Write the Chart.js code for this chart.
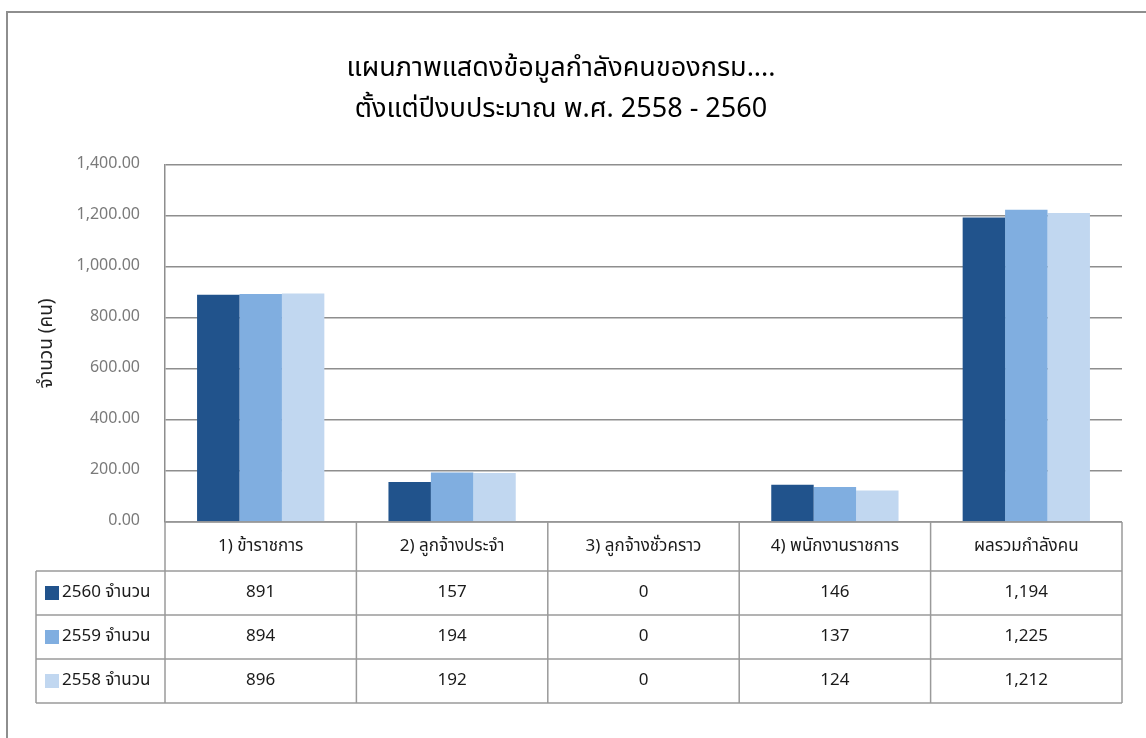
<!DOCTYPE html>
<html lang="th">
<head>
  <meta charset="UTF-8" />
  <title>แผนภาพแสดงข้อมูลกำลังคน</title>
  <script src="https://cdn.jsdelivr.net/npm/chart.js"></script>
  <style>
    body {
      margin: 0;
      background: #fff;
    }
    .wrap {
      position: relative;
      width: 1146px;
      height: 738px;
      overflow: hidden;
    }
    .frame {
      position: absolute;
      left: 6px;
      top: 11px;
      width: 1200px;
      height: 800px;
      border-left: 2px solid #8e8e8e;
      border-top: 2px solid #8e8e8e;
    }
    canvas {
      position: absolute;
      left: 0;
      top: 0;
    }
  </style>
</head>
<body>
  <div class="wrap">
    <div class="frame"></div>
    <canvas id="chart" width="1146" height="738"></canvas>
  </div>

  <script>
    const categories = ['1) ข้าราชการ', '2) ลูกจ้างประจำ', '3) ลูกจ้างชั่วคราว', '4) พนักงานราชการ', 'ผลรวมกำลังคน'];
    const seriesNames = ['2560 จำนวน', '2559 จำนวน', '2558 จำนวน'];
    const values2560 = [891, 157, 0, 146, 1194];
    const values2559 = [894, 194, 0, 137, 1225];
    const values2558 = [896, 192, 0, 124, 1212];
    const colors = ['#21538c', '#80aee0', '#c1d7f0'];

    const fontFamily = "Tahoma, 'Noto Sans Thai', 'Loma', 'Garuda', 'Noto Sans', 'DejaVu Sans', sans-serif";
    const lineColor = '#8e8e8e';

    // data table under the plot, columns come from the x scale
    const dataTable = {
      id: 'dataTable',
      afterDraw(chart) {
        const ctx = chart.ctx;
        const area = chart.chartArea;
        const x = chart.scales.x;
        const headerH = 49;
        const rowH = 44;
        const tableLeft = 36;
        const top = area.bottom;
        const rows = [values2560, values2559, values2558];
        const bottom = top + headerH + rowH * rows.length;

        ctx.save();
        ctx.strokeStyle = '#9a9a9a';
        ctx.lineWidth = 1.5;

        // column lines
        const half = (x.getPixelForValue(1) - x.getPixelForValue(0)) / 2;
        const edges = [area.left];
        categories.forEach((c, i) => edges.push(x.getPixelForValue(i) + half));
        ctx.beginPath();
        edges.forEach(ex => {
          ctx.moveTo(ex, top);
          ctx.lineTo(ex, bottom);
        });
        ctx.moveTo(tableLeft, top + headerH);
        ctx.lineTo(tableLeft, bottom);
        // row lines
        ctx.moveTo(area.left, top);
        ctx.lineTo(area.right, top);
        for (let r = 0; r <= rows.length; r++) {
          const y = top + headerH + r * rowH;
          ctx.moveTo(tableLeft, y);
          ctx.lineTo(area.right, y);
        }
        ctx.stroke();

        ctx.fillStyle = '#1a1a1a';
        ctx.font = '17px ' + fontFamily;
        ctx.textAlign = 'center';
        ctx.textBaseline = 'middle';
        categories.forEach((c, i) => {
          ctx.fillText(c, x.getPixelForValue(i), top + headerH / 2 + 1);
        });
        rows.forEach((vals, r) => {
          const y = top + headerH + r * rowH + rowH / 2 + 1;
          vals.forEach((v, i) => {
            ctx.fillText(v.toLocaleString('en-US'), x.getPixelForValue(i), y);
          });
        });

        // legend keys
        ctx.textAlign = 'left';
        rows.forEach((vals, r) => {
          const y = top + headerH + r * rowH + rowH / 2;
          ctx.fillStyle = colors[r];
          ctx.fillRect(45, y - 7, 14, 14);
          ctx.fillStyle = '#1a1a1a';
          ctx.fillText(seriesNames[r], 62, y + 1);
        });
        ctx.restore();
      }
    };

    new Chart(document.getElementById('chart'), {
      type: 'bar',
      data: {
        labels: categories,
        datasets: [
          { label: seriesNames[0], data: values2560, backgroundColor: colors[0] },
          { label: seriesNames[1], data: values2559, backgroundColor: colors[1] },
          { label: seriesNames[2], data: values2558, backgroundColor: colors[2] }
        ]
      },
      options: {
        responsive: false,
        animation: false,
        layout: {
          padding: { left: 0, right: 24, top: 0, bottom: 216 }
        },
        datasets: {
          bar: {
            categoryPercentage: 0.665,
            barPercentage: 1.0
          }
        },
        plugins: {
          legend: { display: false },
          tooltip: { enabled: false },
          title: {
            display: true,
            text: ['แผนภาพแสดงข้อมูลกำลังคนของกรม....', 'ตั้งแต่ปีงบประมาณ พ.ศ. 2558 - 2560'],
            color: '#000',
            font: { family: fontFamily, size: 27, weight: 'normal', lineHeight: 1.52 },
            padding: { top: 50, bottom: 33 }
          }
        },
        scales: {
          x: {
            display: false
          },
          y: {
            min: 0,
            max: 1400,
            afterFit(axis) { axis.width = 165; },
            ticks: {
              stepSize: 200,
              padding: 25,
              color: '#7a7a7a',
              font: { family: fontFamily, size: 16 },
              callback: v => v.toLocaleString('en-US', { minimumFractionDigits: 2, maximumFractionDigits: 2 })
            },
            grid: {
              color: lineColor,
              lineWidth: 1.5,
              drawTicks: false
            },
            border: { color: lineColor, width: 1.5 },
            title: {
              display: true,
              text: 'จำนวน (คน)',
              color: '#222',
              font: { family: fontFamily, size: 19 },
              padding: { top: 37, bottom: 0 }
            }
          }
        }
      },
      plugins: [dataTable]
    });
  </script>
</body>
</html>
